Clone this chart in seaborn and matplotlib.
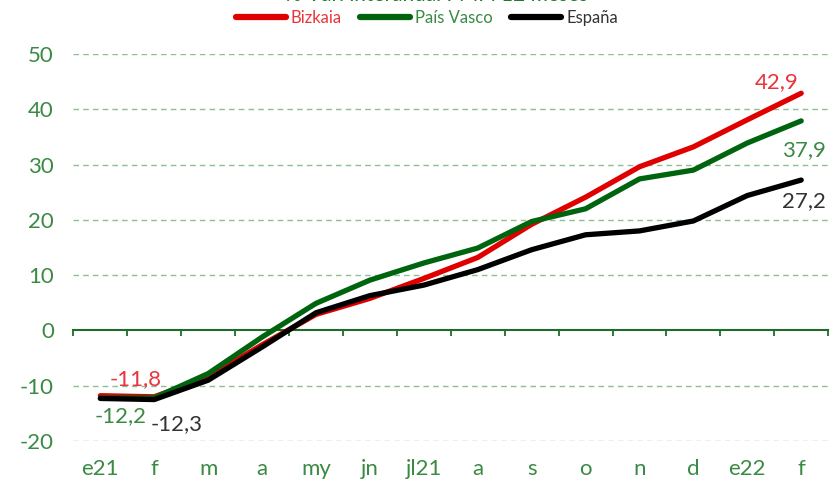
import numpy as np
import pandas as pd
import matplotlib
matplotlib.use('Agg')
import matplotlib.pyplot as plt
import seaborn as sns

# meses (e21 .. f22)
meses = ['e21', 'f', 'm', 'a', 'my', 'jn', 'jl21', 'a', 's', 'o', 'n', 'd', 'e22', 'f']

# % var. interanual
bizkaia = [-11.8, -12.0, -8.4, -2.6, 2.9, 5.8, 9.4, 13.2, 19.2, 24.1, 29.6, 33.2, 38.1, 42.9]
pais_vasco = [-12.2, -12.2, -7.8, -1.2, 4.9, 9.1, 12.2, 14.9, 19.7, 22.0, 27.4, 29.0, 33.9, 37.9]
espana = [-12.3, -12.5, -9.0, -3.0, 3.2, 6.3, 8.2, 11.0, 14.6, 17.3, 18.0, 19.8, 24.4, 27.2]

series = ['Bizkaia', 'País Vasco', 'España']
colores = {'Bizkaia': '#e00000', 'País Vasco': '#00640f', 'España': '#000000'}
colores_txt = {'Bizkaia': '#e8343a', 'País Vasco': '#3a8a44', 'España': '#333333'}

verde = '#3a8a44'
FS = 16

df = pd.DataFrame({
    'x': list(range(len(meses))) * 3,
    'valor': bizkaia + pais_vasco + espana,
    'serie': ['Bizkaia'] * len(meses) + ['País Vasco'] * len(meses) + ['España'] * len(meses),
})

sns.set_theme(style='white')
plt.rcParams['font.family'] = ['Lato', 'DejaVu Sans']

fig = plt.figure(figsize=(8.34, 4.82), dpi=100)
ax = fig.add_axes([0.088, 0.085, 0.905, 0.803])

sns.lineplot(data=df, x='x', y='valor', hue='serie', hue_order=series,
             palette=colores, linewidth=3.8, ax=ax, legend=False,
             solid_capstyle='round', solid_joinstyle='round')

ax.set_xlim(-0.5, 13.5)
ax.set_ylim(-20, 50)
ax.set_yticks(range(-20, 51, 10))
ax.set_yticklabels([str(v) for v in range(-20, 51, 10)])
ax.set_xticks(range(len(meses)))
ax.set_xticklabels(meses)
ax.tick_params(axis='both', length=0, labelsize=FS, colors=verde)
ax.tick_params(axis='y', pad=14)
ax.tick_params(axis='x', pad=13)
ax.set_xlabel('')
ax.set_ylabel('')
for s in ax.spines.values():
    s.set_visible(False)

for v in range(-20, 51, 10):
    if v != 0:
        ax.axhline(v, color='#8fbf8f', lw=1, ls=(0, (4, 3)), zorder=0)

# eje en el cero con marcas entre meses
sec = ax.secondary_xaxis((0 + 20) / 70)
sec.set_xticks(np.arange(-0.5, 14, 1.0))
sec.tick_params(axis='x', direction='out', length=4, width=1.3, color='#1f6b2a', labelbottom=False)
sec.spines['bottom'].set_color('#1f6b2a')
sec.spines['bottom'].set_linewidth(1.5)
for k in ['top', 'left', 'right']:
    sec.spines[k].set_visible(False)

# etiquetas de datos
ax.annotate('-11,8', (0, bizkaia[0]), xytext=(7, 5), textcoords='offset points',
            color=colores_txt['Bizkaia'], fontsize=FS, ha='left', va='bottom')
ax.annotate('-12,2', (0, pais_vasco[0]), xytext=(-4, -6), textcoords='offset points',
            color=colores_txt['País Vasco'], fontsize=FS, ha='left', va='top')
ax.annotate('-12,3', (0, espana[0]), xytext=(36, -11), textcoords='offset points',
            color=colores_txt['España'], fontsize=FS, ha='left', va='top')
ax.annotate('42,9', (13, bizkaia[-1]), xytext=(-2, 1), textcoords='offset points',
            color=colores_txt['Bizkaia'], fontsize=FS, ha='right', va='bottom')
ax.annotate('37,9', (13, pais_vasco[-1]), xytext=(-14, -14), textcoords='offset points',
            color=colores_txt['País Vasco'], fontsize=FS, ha='left', va='top')
ax.annotate('27,2', (13, espana[-1]), xytext=(-14, -8), textcoords='offset points',
            color=colores_txt['España'], fontsize=FS, ha='left', va='top')

# titulo (cortado arriba en el original)
fig.text(0.524, 1.011, '% Var. interanual PMP. 12 meses', color='#1f7a2a',
         fontsize=15, ha='center', va='center')

handles = [plt.Line2D([], [], color=colores[s], lw=4.5, solid_capstyle='round') for s in series]
leg = fig.legend(handles, series, loc='center', bbox_to_anchor=(0.512, 0.962), ncol=3,
                 frameon=False, fontsize=12, handlelength=3.0, handletextpad=0.3,
                 columnspacing=1.1)
for t, s in zip(leg.get_texts(), series):
    t.set_color(colores_txt[s])

fig.savefig('out.png', dpi=100)
